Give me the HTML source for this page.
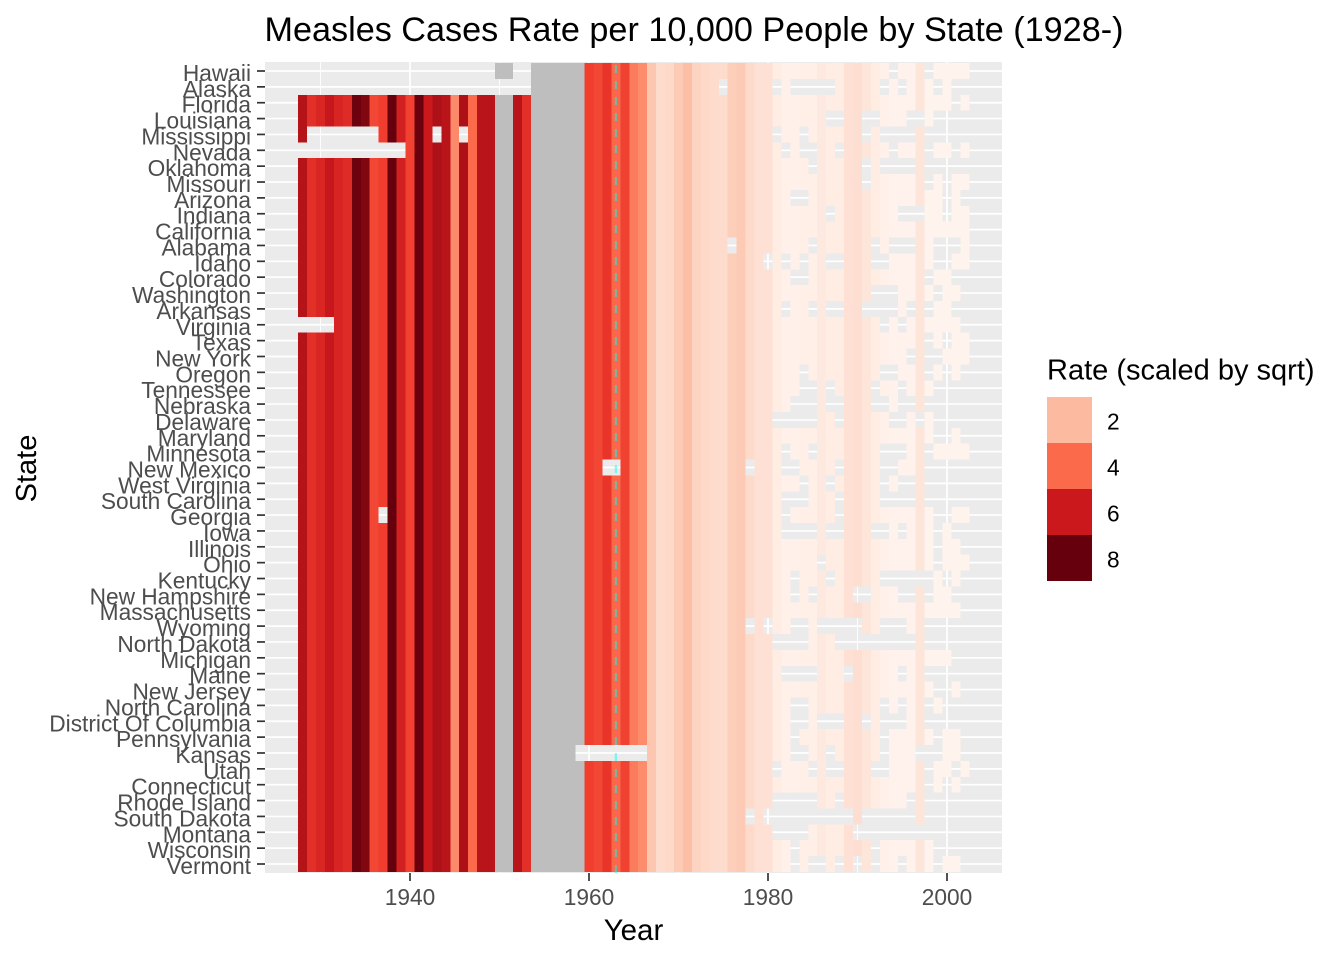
<!DOCTYPE html>
<html lang="en">
<head>
<meta charset="utf-8">
<title>Measles Cases Rate per 10,000 People by State</title>
<style>
html,body{margin:0;padding:0;background:#fff;}
svg{display:block;font-family:"Liberation Sans",Arial,sans-serif;}
</style>
</head>
<body>
<svg id="chart" xmlns="http://www.w3.org/2000/svg" width="1344" height="960" viewBox="0 0 1344 960">
  <text x="694" y="41" font-size="34.2" text-anchor="middle" fill="#000">Measles Cases Rate per 10,000 People by State (1928-)</text>
  <rect x="265" y="62" width="737" height="811" fill="#ebebeb"/>
  <g id="grid"></g>
  <g id="cells" shape-rendering="crispEdges"></g>
  <g id="marker"></g>
  <g id="xaxis"></g>
  <g id="yaxis"></g>
  <text x="633.5" y="940" font-size="29.5" text-anchor="middle" fill="#000">Year</text>
  <text transform="translate(36,468.5) rotate(-90)" font-size="29" text-anchor="middle" fill="#000">State</text>
  <g id="legend">
    <text x="1047" y="379.5" font-size="29" fill="#000">Rate (scaled by sqrt)</text>
  </g>
</svg>
<script>
const states = ["Hawaii","Alaska","Florida","Louisiana","Mississippi","Nevada","Oklahoma","Missouri","Arizona","Indiana","California","Alabama","Idaho","Colorado","Washington","Arkansas","Virginia","Texas","New York","Oregon","Tennessee","Nebraska","Delaware","Maryland","Minnesota","New Mexico","West Virginia","South Carolina","Georgia","Iowa","Illinois","Ohio","Kentucky","New Hampshire","Massachusetts","Wyoming","North Dakota","Michigan","Maine","New Jersey","North Carolina","District Of Columbia","Pennsylvania","Kansas","Utah","Connecticut","Rhode Island","South Dakota","Montana","Wisconsin","Vermont"];

const years = [1928,1929,1930,1931,1932,1933,1934,1935,1936,1937,1938,1939,1940,1941,1942,1943,1944,1945,1946,1947,1948,1949,1950,1951,1952,1953,1954,1955,1956,1957,1958,1959,1960,1961,1962,1963,1964,1965,1966,1967,1968,1969,1970,1971,1972,1973,1974,1975,1976,1977,1978,1979,1980,1981,1982,1983,1984,1985,1986,1987,1988,1989,1990,1991,1992,1993,1994,1995,1996,1997,1998,1999,2000,2001,2002];

// Scaled rate by year (null = reported as NA, drawn grey)
const rates = [6.6,5.35,5.6,6.1,5.65,5.45,7.9,7.6,4.75,4.95,8,5.8,4.85,7.95,6,6.8,6.5,3.2,6.8,4,6.5,6.5,null,null,6.5,5.35,null,null,null,null,null,null,4.95,4.75,5.2,4.05,4.85,3.55,3.15,1.7,1.1,1.2,1.6,1.9,1.35,1.2,1.1,1.1,1.5,1.6,1.15,0.95,0.95,0.4,0.25,0.25,0.3,0.3,0.55,0.45,0.4,0.95,1.05,0.75,0.4,0.2,0.15,0.12,0.12,0.75,0.08,0.08,0.08,0.08,0.08];

// Years with no record for each state (same order as states)
const absentYears = [
"1928-1949 1952 1953 1994 1998",
"1928-1953 1975 1981 1983-1987 1993 1995 1999 2001 2002",
"2001",
"1987 1988 1991 1992 1996 1997 1999-2002",
"1929-1936 1943 1946 1981 1984 1991 1993-1996 1998-2002",
"1928-1939 1982 1984 1985 1988 1994 1998 2001",
"1985 1991 1993-1996 1998-2002",
"1991 1998 2000",
"1983 1984 2000 2002",
"1987 1995-1997 2000",
"",
"1976 1985 1992 1994-1996 1999-2001",
"1980 1982 1984 1987 1988 1992 1993 1999 2000",
"1983 1984 1998 2001 2002",
"1992-1994 1999 2002",
"1982 1985 1987 1988 1991-1994 1996 1998 2001 2002",
"1928-1931 1993 1995 2002",
"1998 2000",
"1996 1998 1999",
"1984 1993 1994 1998 2000 2002",
"1984 1985 1987 1992 1995 1999-2002",
"1983-1985 1987 1988 1992 1993 1995 1996 1998-2002",
"1981-1985 1988 1994 1995 1997 1999-2002",
"1999 2000 2002",
"1982 1985 1993-1995 1998",
"1962 1963 1978 1982 1983 1988 1993 1994 1998-2002",
"1984 1987 1993 1995 1996 1998-2002",
"1982-1984 1988 1993-1996 1998-2002",
"1937 1982 1988 1999 2000",
"1982-1985 1987 1988 1992 1993 1995 1999 2001 2002",
"1999 2002",
"1986 1999",
"1983 1987 1993-1998 2000 2002",
"1983 1985 1990 1991 1995 1996 1998 2001 2002",
"2002",
"1978 1980 1983 1984 1986-1990 1993-1995 1998-2002",
"1981-1984 1988-1996 1998-2002",
"2001 2002",
"1982-1985 1989 1995 1998-2002",
"1999 2000 2002",
"1983 1984 1993 1995 1998 2000-2002",
"1983 1984 1986-1988 1991 1993-1995 1998-2002",
"1983 1993 1999 2002",
"1959-1966 1983 1984 1987 1993 1997-1999 2002",
"1981 1985 1987 1988 1992 1993 1998 2001",
"1998 2000 2002",
"1981-1985 1988 1996 1998-2002",
"1978 1980-1989 1991-1996 1998-2002",
"1981-1984 1990-2002",
"1983 1992 1999-2002",
"1983 1985 1986 1988 1990 1992 1995 1999 2002"
];

const xTicks = [1940,1960,1980,2000];
const xMinorTicks = [1930,1950,1970,1990];
const vaccineYear = [1963];
const legendValues = [2,4,6,8];
const scaleMax = [8];
const palette = ["#fff5f0","#fee0d2","#fcbba1","#fc9272","#fb6a4a","#ef3b2c","#cb181d","#a50f15","#67000d"];

const NS = "http://www.w3.org/2000/svg";
function xScale(year){ return 410 + (year - 1940) * 8.95; }
function yScale(index){ return 71 + index * 15.86; }
const rowHeight = 15.86;

function hexToRgb(h){ return [1,3,5].map(function(i){ return parseInt(h.substr(i,2),16); }); }
function fillFor(v){
  if (v === null) return "#bebebe";
  const t = Math.max(0, Math.min(1, v / scaleMax[0])) * (palette.length - 1);
  const i = Math.min(palette.length - 2, Math.floor(t));
  const a = hexToRgb(palette[i]), b = hexToRgb(palette[i + 1]), f = t - i;
  return "rgb(" + a.map(function(c, k){ return Math.round(c + (b[k] - c) * f); }).join(",") + ")";
}
function parseYears(spec){
  const out = {};
  spec.split(" ").filter(Boolean).forEach(function(p){
    const r = p.split("-").map(Number);
    for (let y = r[0]; y <= (r[1] || r[0]); y++) out[y] = true;
  });
  return out;
}
function make(tag, attrs, parent, txt){
  const el = document.createElementNS(NS, tag);
  Object.keys(attrs).forEach(function(k){ el.setAttribute(k, attrs[k]); });
  if (txt !== undefined) el.textContent = txt;
  parent.appendChild(el);
  return el;
}

const grid = document.getElementById("grid");
xMinorTicks.forEach(function(y){
  const el = make("line", {x1:xScale(y), x2:xScale(y), y1:62, y2:873, stroke:"#fff", "stroke-width":0.9}, grid);
  
  
});
xTicks.forEach(function(y){
  const el = make("line", {x1:xScale(y), x2:xScale(y), y1:62, y2:873, stroke:"#fff", "stroke-width":1.7}, grid);
  
  
});
states.forEach(function(s, i){
  const el = make("line", {x1:265, x2:1002, y1:yScale(i), y2:yScale(i), stroke:"#fff", "stroke-width":1.7}, grid);
  
  
});

const cells = document.getElementById("cells");
states.forEach(function(s, i){
  const absent = parseYears(absentYears[i]);
  years.forEach(function(year, j){
    if (absent[year]) return;
    const x0 = xScale(year - 0.5), x1 = xScale(year + 0.5);
    const el = make("rect", {x:x0, y:yScale(i) - rowHeight / 2, width:x1 - x0, height:rowHeight, fill:fillFor(rates[j])}, cells);
    
    
  });
});

const marker = document.getElementById("marker");
const vaccineLine = make("line", {x1:xScale(vaccineYear[0]), x2:xScale(vaccineYear[0]), y1:873, y2:62, stroke:"#00ffff", "stroke-opacity":0.5, "stroke-width":2.2, "stroke-dasharray":"8 8"}, marker);



const xaxis = document.getElementById("xaxis");
xTicks.forEach(function(y){
  const tick = make("line", {x1:xScale(y), x2:xScale(y), y1:873, y2:881, stroke:"#333", "stroke-width":1.7}, xaxis);
  
  
  const label = make("text", {x:xScale(y), y:905, "font-size":22.7, "text-anchor":"middle", fill:"#4d4d4d"}, xaxis, String(y));
  
  
});

const yaxis = document.getElementById("yaxis");
states.forEach(function(s, i){
  const tick = make("line", {x1:257, x2:265, y1:yScale(i), y2:yScale(i), stroke:"#333", "stroke-width":1.7}, yaxis);
  
  
  const label = make("text", {x:251, y:yScale(i) + 10, "font-size":22.7, "text-anchor":"end", fill:"#4d4d4d"}, yaxis, s);
  
  
});

const legend = document.getElementById("legend");
legendValues.forEach(function(v, i){
  const key = make("rect", {x:1047, y:397 + i * 46, width:45, height:46, fill:fillFor(v)}, legend);
  
  
  const label = make("text", {x:1107, y:429.5 + i * 46, "font-size":22.7, fill:"#000"}, legend, String(v));
  
  
});
</script>
</body>
</html>
